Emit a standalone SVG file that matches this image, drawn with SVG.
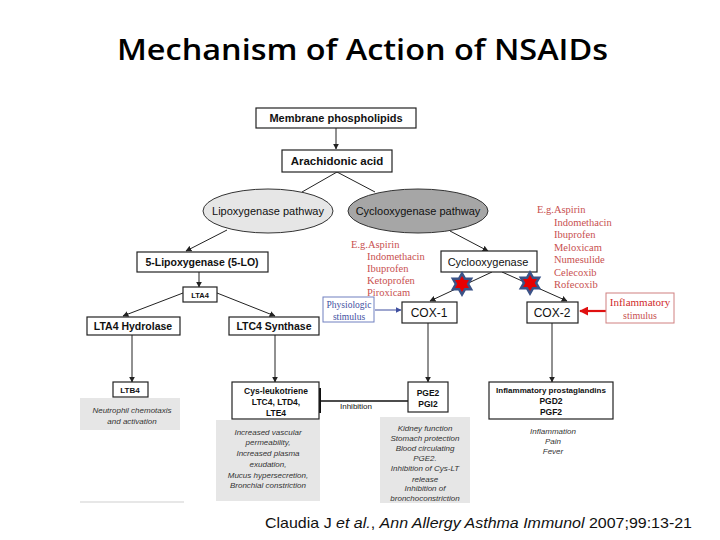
<svg xmlns="http://www.w3.org/2000/svg" width="720" height="540" viewBox="0 0 720 540">
<style>
.box{fill:#fff;stroke:#222;stroke-width:1.2}
.gray{fill:#e6e6e6;stroke:none}
.lbl{font-family:"Liberation Sans",Arial,sans-serif;fill:#111;text-anchor:middle}
.b{font-weight:bold}
.it{font-family:"Liberation Sans",Arial,sans-serif;font-style:italic;font-size:8px;fill:#333;text-anchor:middle}
.drug{font-family:"Liberation Serif","Times New Roman",serif;font-size:10.5px;fill:#c8504f}
.ln{stroke:#222;stroke-width:1;fill:none}
</style>
<defs>
<marker id="ah" viewBox="0 0 10 10" refX="9" refY="5" markerWidth="6" markerHeight="6" orient="auto" markerUnits="userSpaceOnUse">
<path d="M0,0 L10,5 L0,10 z" fill="#222"/>
</marker>
<marker id="ahb" viewBox="0 0 10 10" refX="9" refY="5" markerWidth="6" markerHeight="6" orient="auto" markerUnits="userSpaceOnUse">
<path d="M0,0 L10,5 L0,10 z" fill="#3f4f9f"/>
</marker>
<marker id="ahr" viewBox="0 0 10 10" refX="9" refY="5" markerWidth="9" markerHeight="9" orient="auto" markerUnits="userSpaceOnUse">
<path d="M0,0 L10,5 L0,10 z" fill="#e01010"/>
</marker>
<path id="hex" d="M0,-13 L3.75,-6.5 L11.26,-6.5 L7.5,0 L11.26,6.5 L3.75,6.5 L0,13 L-3.75,6.5 L-11.26,6.5 L-7.5,0 L-11.26,-6.5 L-3.75,-6.5 Z"/>
<clipPath id="clipBottom"><rect x="0" y="0" width="720" height="503"/></clipPath>
</defs>
<rect width="720" height="540" fill="#fff"/>

<text id="title" x="117" y="60" font-family="'Open Sans','Noto Sans',sans-serif" font-weight="600" font-size="28" fill="#000" textLength="491" lengthAdjust="spacingAndGlyphs">Mechanism of Action of NSAIDs</text>

<g id="connectors">
<line class="ln" x1="336" y1="128" x2="336" y2="149" marker-end="url(#ah)"/>
<line class="ln" x1="337" y1="172" x2="302" y2="192"/>
<line class="ln" x1="337" y1="172" x2="375" y2="192"/>
<line class="ln" x1="227" y1="230" x2="186" y2="251" marker-end="url(#ah)"/>
<line class="ln" x1="450" y1="231" x2="488" y2="251" marker-end="url(#ah)"/>
<line class="ln" x1="199" y1="272" x2="199" y2="287" marker-end="url(#ah)"/>
<line class="ln" x1="183" y1="293" x2="123" y2="316" marker-end="url(#ah)"/>
<line class="ln" x1="217" y1="293" x2="275" y2="316" marker-end="url(#ah)"/>
<line class="ln" x1="132" y1="335" x2="132" y2="382" marker-end="url(#ah)"/>
<line class="ln" x1="275" y1="335" x2="275" y2="382" marker-end="url(#ah)"/>
<line class="ln" x1="492" y1="272" x2="430" y2="301" marker-end="url(#ah)"/>
<line class="ln" x1="502" y1="272" x2="567" y2="301" marker-end="url(#ah)"/>
<line x1="375" y1="310" x2="401" y2="310" stroke="#3f4f9f" stroke-width="1" marker-end="url(#ahb)"/>
<line x1="606" y1="311" x2="580" y2="311" stroke="#e01010" stroke-width="2.2" marker-end="url(#ahr)"/>
<line class="ln" x1="428" y1="323" x2="428" y2="382" marker-end="url(#ah)"/>
<line class="ln" x1="552" y1="323" x2="552" y2="382" marker-end="url(#ah)"/>
<line x1="320" y1="401" x2="408" y2="401" stroke="#111" stroke-width="1.6"/>
<line x1="320" y1="388" x2="320" y2="413" stroke="#111" stroke-width="2"/>
</g>

<g id="membrane">
<rect class="box" x="256" y="108" width="160" height="20"/>
<text class="lbl b" x="336" y="122" font-size="11">Membrane phospholipids</text>
</g>
<g id="arachidonic">
<rect class="box" x="282" y="150" width="110" height="22"/>
<text class="lbl b" x="337" y="165" font-size="11.5">Arachidonic acid</text>
</g>
<g id="lox-pathway">
<ellipse cx="268" cy="211" rx="65" ry="22" fill="#e6e6e6" stroke="#333" stroke-width="1"/>
<text class="lbl" x="268" y="215" font-size="11">Lipoxygenase pathway</text>
</g>
<g id="cox-pathway">
<ellipse cx="418" cy="211" rx="70" ry="22" fill="#a6a6a6" stroke="#333" stroke-width="1"/>
<text class="lbl" x="418" y="215" font-size="11">Cyclooxygenase pathway</text>
</g>
<g id="five-lo">
<rect class="box" x="137" y="252" width="131" height="20"/>
<text class="lbl b" x="202" y="266" font-size="10.5">5-Lipoxygenase (5-LO)</text>
</g>
<g id="cyclooxygenase">
<rect class="box" x="441" y="251" width="96" height="21"/>
<text class="lbl" x="488" y="266" font-size="11">Cyclooxygenase</text>
</g>
<g id="lta4">
<rect class="box" x="183" y="287" width="34" height="15"/>
<text class="lbl b" x="200" y="298" font-size="7.5">LTA4</text>
</g>
<g id="lta4-hydrolase">
<rect class="box" x="87" y="317" width="93" height="18"/>
<text class="lbl b" x="133" y="330" font-size="10.5">LTA4 Hydrolase</text>
</g>
<g id="ltc4-synthase">
<rect class="box" x="229" y="317" width="90" height="18"/>
<text class="lbl b" x="274" y="330" font-size="10.5">LTC4 Synthase</text>
</g>
<g id="physiologic">
<rect x="323" y="297" width="51" height="25" fill="#fff" stroke="#7080c0" stroke-width="1"/>
<text x="349" y="308" font-family="'Liberation Serif',serif" font-size="9.5" fill="#3f4f9f" text-anchor="middle">Physiologic</text>
<text x="349" y="320" font-family="'Liberation Serif',serif" font-size="9.5" fill="#3f4f9f" text-anchor="middle">stimulus</text>
</g>
<g id="cox1">
<rect class="box" x="402" y="302" width="55" height="21"/>
<text class="lbl" x="429" y="317" font-size="12">COX-1</text>
</g>
<g id="cox2">
<rect class="box" x="527" y="302" width="51" height="21"/>
<text class="lbl" x="552" y="317" font-size="12">COX-2</text>
</g>
<g id="inflammatory-stimulus">
<rect x="606" y="293" width="68" height="30" fill="#fff" stroke="#d08080" stroke-width="1"/>
<text x="640" y="306" font-family="'Liberation Serif',serif" font-size="11" fill="#d02a2a" text-anchor="middle">Inflammatory</text>
<text x="640" y="319" font-family="'Liberation Serif',serif" font-size="10" fill="#c8504f" text-anchor="middle">stimulus</text>
</g>

<g id="drugs-cox1">
<text class="drug" x="351" y="248">E.g.Aspirin</text>
<text class="drug" x="367" y="260">Indomethacin</text>
<text class="drug" x="367" y="272">Ibuprofen</text>
<text class="drug" x="367" y="284">Ketoprofen</text>
<text class="drug" x="367" y="296">Piroxicam</text>
</g>
<g id="drugs-cox2">
<text class="drug" x="537" y="213">E.g.Aspirin</text>
<text class="drug" x="554" y="226">Indomethacin</text>
<text class="drug" x="554" y="238">Ibuprofen</text>
<text class="drug" x="554" y="251">Meloxicam</text>
<text class="drug" x="554" y="263">Numesulide</text>
<text class="drug" x="554" y="276">Celecoxib</text>
<text class="drug" x="554" y="288">Rofecoxib</text>
</g>

<g id="block-stars">
<use href="#hex" transform="translate(462,284)" fill="#3b5387"/>
<use href="#hex" transform="translate(462,284) scale(0.62)" fill="#e80000"/>
<use href="#hex" transform="translate(530,283)" fill="#3b5387"/>
<use href="#hex" transform="translate(530,283) scale(0.62)" fill="#e80000"/>
</g>

<g id="ltb4">
<rect class="box" x="113" y="382" width="35" height="15"/>
<text class="lbl b" x="130" y="393" font-size="8">LTB4</text>
</g>
<g id="neutrophil">
<rect class="gray" x="80" y="398" width="100" height="32"/>
<text class="it" x="132" y="413">Neutrophil chemotaxis</text>
<text class="it" x="132" y="424">and activation</text>
</g>
<g id="cys-lt">
<rect class="box" x="232" y="382" width="87" height="37"/>
<text class="lbl b" x="276" y="394" font-size="8.5">Cys-leukotriene</text>
<text class="lbl b" x="276" y="405" font-size="8.5">LTC4, LTD4,</text>
<text class="lbl b" x="276" y="416" font-size="8.5">LTE4</text>
</g>
<g id="cys-effects">
<rect class="gray" x="216" y="420" width="104" height="81"/>
<text class="it" x="268" y="435">Increased vascular</text>
<text class="it" x="268" y="445">permeability,</text>
<text class="it" x="268" y="456">Increased plasma</text>
<text class="it" x="268" y="467">exudation,</text>
<text class="it" x="268" y="478">Mucus hypersecretion,</text>
<text class="it" x="268" y="488">Bronchial constriction</text>
</g>
<g id="inhibition-label">
<text class="lbl" x="356" y="409" font-size="8">Inhibition</text>
</g>
<g id="pge2">
<rect class="box" x="408" y="382" width="40" height="30"/>
<text class="lbl b" x="428" y="396" font-size="8.5">PGE2</text>
<text class="lbl b" x="428" y="407" font-size="8.5">PGI2</text>
</g>
<g id="pge2-effects" clip-path="url(#clipBottom)">
<rect class="gray" x="380" y="417" width="90" height="86"/>
<text class="it" x="425" y="431">Kidney function</text>
<text class="it" x="425" y="441">Stomach protection</text>
<text class="it" x="425" y="451">Blood circulating</text>
<text class="it" x="425" y="461">PGE2.</text>
<text class="it" x="425" y="471">Inhibition of Cys-LT</text>
<text class="it" x="425" y="482">release</text>
<text class="it" x="425" y="491">Inhibition of</text>
<text class="it" x="425" y="501">bronchoconstriction</text>
</g>
<g id="inflammatory-pg">
<rect class="box" x="489" y="382" width="124" height="37"/>
<text class="lbl b" x="551" y="393" font-size="8">Inflammatory prostaglandins</text>
<text class="lbl b" x="551" y="404" font-size="8.5">PGD2</text>
<text class="lbl b" x="551" y="415" font-size="8.5">PGF2</text>
</g>
<g id="cox2-effects">
<text class="it" x="553" y="434">Inflammation</text>
<text class="it" x="553" y="444">Pain</text>
<text class="it" x="553" y="454">Fever</text>
</g>

<line x1="80" y1="502" x2="184" y2="502" stroke="#cfcfcf" stroke-width="1"/>

<text id="citation" x="265" y="528" font-family="'Liberation Sans',Arial,sans-serif" font-size="15" fill="#111" textLength="427" lengthAdjust="spacingAndGlyphs">Claudia J <tspan font-style="italic">et al.</tspan>, <tspan font-style="italic">Ann Allergy Asthma Immunol</tspan> 2007;99:13-21</text>
</svg>
